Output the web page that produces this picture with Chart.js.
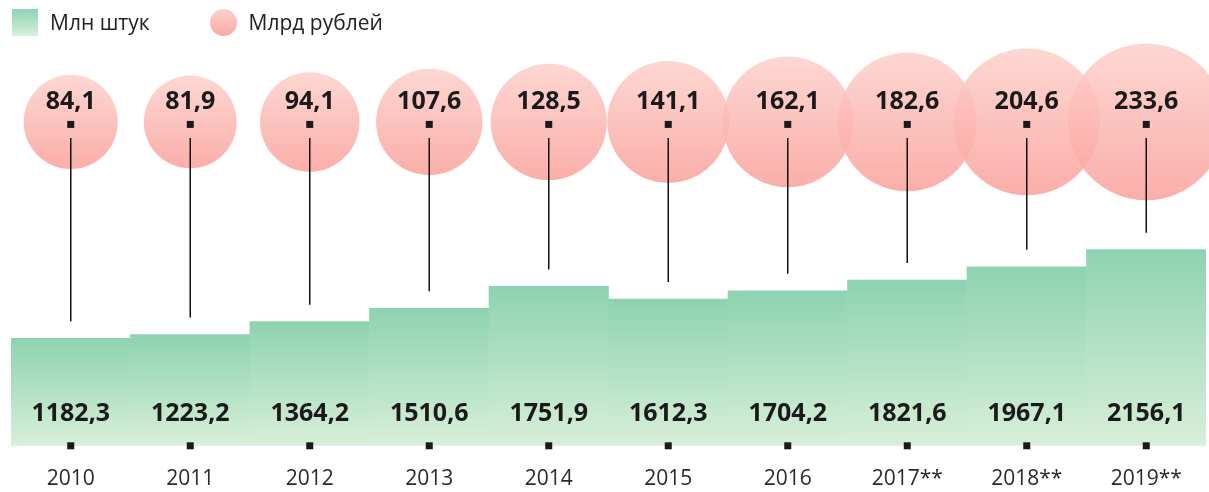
<!DOCTYPE html>
<html>
<head>
<meta charset="utf-8">
<script src="https://cdn.jsdelivr.net/npm/chart.js@4/dist/chart.umd.min.js"></script>
<style>
  body { margin: 0; background: #fff; font-family: "Open Sans", sans-serif; }
  #wrap { position: relative; width: 1209px; height: 492px; }
  .legend { position: absolute; top: 8px; left: 12px; display: flex; align-items: center; font-size: 21px; color: #222; }
  .legend .sq { width: 26px; height: 27px; background: linear-gradient(#8ed4b2, #d8f0dc); margin-right: 12px; }
  .legend .ci { width: 27px; height: 27px; border-radius: 50%; background: linear-gradient(#fdd0cb, #f9aaa5); margin: 0 12px 0 60px; }
</style>
</head>
<body>
<div id="wrap">
  <canvas id="chart" width="1209" height="492"></canvas>
  <div class="legend">
    <div class="sq"></div><span>Млн штук</span>
    <div class="ci"></div><span>Млрд рублей</span>
  </div>
</div>

<script>
var years = ['2010', '2011', '2012', '2013', '2014', '2015', '2016', '2017**', '2018**', '2019**'];
var units = [1182.3, 1223.2, 1364.2, 1510.6, 1751.9, 1612.3, 1704.2, 1821.6, 1967.1, 2156.1];   // млн штук
var rubles = [84.1, 81.9, 94.1, 107.6, 128.5, 141.1, 162.1, 182.6, 204.6, 233.6];           // млрд рублей

var yMax = 4900;
var bubbleLevel = 3560;   // height of the bubble row on the y scale
var rScale = 5.13;        // bubble area ~ value

function fmt(v) {
    return v.toFixed(1).replace('.', ',');
}

var bubbleData = [];
for (let i = 0; i < years.length; i++) {
    bubbleData.push({ x: years[i], y: bubbleLevel, r: rScale * Math.sqrt(rubles[i]) });
}

function barFill(context) {
    var chart = context.chart;
    if (!chart.chartArea || context.parsed == null) return '#a8dcc0';
    var y = chart.scales.y;
    var top = y.getPixelForValue(context.parsed.y);
    var bottom = y.getPixelForValue(0);
    var g = chart.ctx.createLinearGradient(0, top, 0, bottom);
    g.addColorStop(0, '#8dd3b1');
    g.addColorStop(1, '#d8efd8');
    return g;
}

function bubbleFill(context) {
    var chart = context.chart;
    if (!chart.chartArea || context.raw == null) return 'rgba(251,180,175,0.85)';
    var cy = chart.scales.y.getPixelForValue(context.raw.y);
    var r = context.raw.r;
    var g = chart.ctx.createLinearGradient(0, cy - r, 0, cy + r);
    g.addColorStop(0, 'rgba(253,208,203,0.85)');
    g.addColorStop(1, 'rgba(250,160,154,0.85)');
    return g;
}

var labelsPlugin = {
    id: 'labels',
    afterDatasetsDraw(chart) {
        var ctx = chart.ctx;
        var bars = chart.getDatasetMeta(0).data;
        var bubbles = chart.getDatasetMeta(1).data;
        var base = chart.scales.y.getPixelForValue(0);
        ctx.save();
        ctx.fillStyle = '#1a1a1a';
        ctx.strokeStyle = '#111';
        ctx.lineWidth = 1.5;
        ctx.font = 'bold 25px "Open Sans"';
        ctx.textAlign = 'center';
        ctx.textBaseline = 'middle';
        for (let i = 0; i < bars.length; i++) {
            var b = bars[i];
            var c = bubbles[i];
            // connector
            ctx.beginPath();
            ctx.moveTo(c.x, c.y + 16);
            ctx.lineTo(c.x, b.y - 17);
            ctx.stroke();
            // markers
            ctx.fillRect(c.x - 3.5, c.y - 1, 7, 7);
            ctx.fillRect(b.x - 3.5, base - 3.5, 7, 7);
            // values
            ctx.fillText(fmt(rubles[i]), c.x, c.y - 20);
            ctx.fillText(fmt(units[i]), b.x, base - 32);
        }
        ctx.restore();
    }
};

var chart = new Chart(document.getElementById('chart'), {
    data: {
        labels: years,
        datasets: [{
            type: 'bar',
            label: 'Млн штук',
            data: units,
            backgroundColor: barFill,
            borderWidth: 0,
            barPercentage: 1,
            categoryPercentage: 1,
            order: 2
        }, {
            type: 'bubble',
            label: 'Млрд рублей',
            data: bubbleData,
            backgroundColor: bubbleFill,
            borderWidth: 0,
            clip: false,
            order: 1
        }]
    },
    options: {
        responsive: false,
        animation: false,
        layout: { autoPadding: false, padding: { left: 11, right: 3, top: 0, bottom: -21 } },
        plugins: {
            legend: { display: false },
            tooltip: { enabled: false }
        },
        scales: {
            x: {
                type: 'category',
                offset: true,
                grid: { display: false, drawTicks: false },
                border: { display: false },
                ticks: {
                    padding: 21,
                    color: '#2a2a2a',
                    font: { family: '"Open Sans"', size: 21 }
                }
            },
            y: {
                display: false,
                min: 0,
                max: yMax
            }
        }
    },
    plugins: [labelsPlugin]
});
</script>
</body>
</html>
